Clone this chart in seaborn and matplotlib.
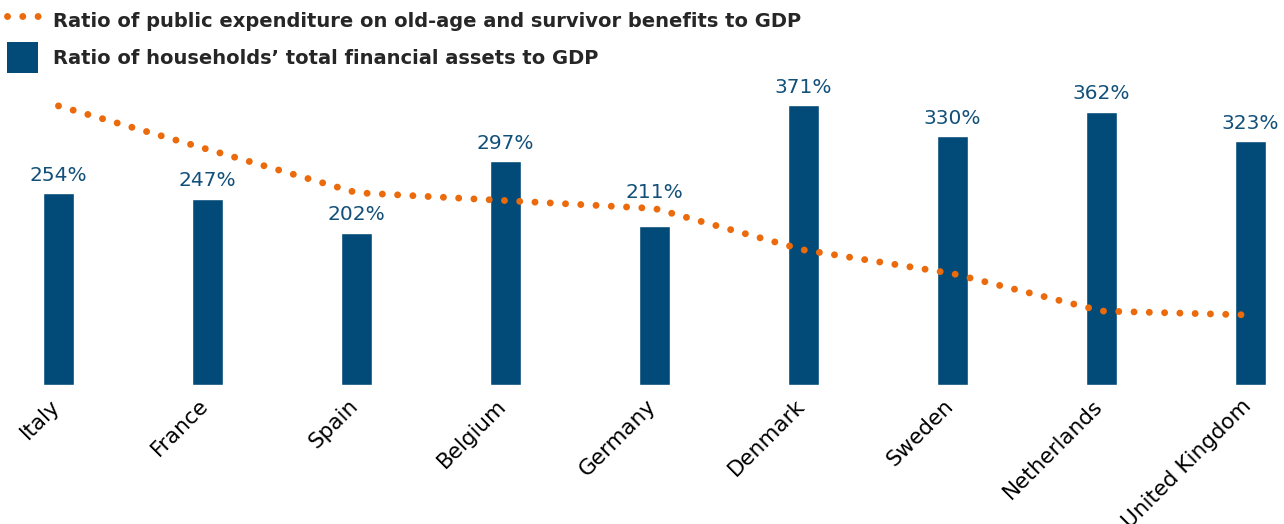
import numpy as np
import matplotlib
matplotlib.use("Agg")
import matplotlib.pyplot as plt
from matplotlib.lines import Line2D
from matplotlib.patches import Patch
import matplotlib.transforms as mtransforms
import seaborn as sns

countries = ["Italy", "France", "Spain", "Belgium", "Germany",
             "Denmark", "Sweden", "Netherlands", "United Kingdom"]
financial_assets = [254, 247, 202, 297, 211, 371, 330, 362, 323]
pension_spending = [15.6, 13.4, 11.2, 10.8, 10.4, 8.3, 7.1, 5.2, 5.0]

legend_labels = [
    "Ratio of public expenditure on old-age and survivor benefits to GDP",
    "Ratio of households\u2019 total financial assets to GDP",
]

BLUE = "#024B78"
LABEL_BLUE = "#12507A"
ORANGE = "#EB6A0C"
FONT = ["DejaVu Sans"]

sns.set_theme(style="white")
plt.rcParams["font.family"] = FONT

fig = plt.figure(figsize=(12.84, 5.24), dpi=100)
W, H = 1284, 524
ax = fig.add_axes([0, 1 - 385 / H, 1, 300 / H])

pos = np.arange(len(countries))
sns.barplot(x=pos, y=financial_assets, color=BLUE, width=0.21,
            saturation=1, ax=ax, native_scale=True)
ax.set_xlim(-58.5 / 149, 8 + (W - 1250.5) / 149)
ax.set_ylim(0, 397.5)

labels = ax.bar_label(ax.containers[0],
                      labels=[f"{v}%" for v in financial_assets],
                      padding=6, color=LABEL_BLUE, fontsize=14.5)
# lift the Germany label clear of the dotted line
labels[countries.index("Germany")].xyann = (0, 17)

# dotted series on its own scale
ax2 = ax.twinx()
lw = 5.0
dots = (0, (0.001, 2.2))
sns.lineplot(x=pos, y=pension_spending, sort=False, ax=ax2, color=ORANGE,
             linewidth=lw, linestyle=dots, dash_capstyle="round")
ax2.set_ylim(1.45, 16.66)
ax2.set_xlim(ax.get_xlim())

for a in (ax, ax2):
    for s in a.spines.values():
        s.set_visible(False)
    a.set_yticks([])
    a.set_ylabel("")
    a.grid(False)

ax.set_xticks(pos)
ax.set_xticklabels(countries, rotation=45, ha="right", rotation_mode="anchor",
                   fontsize=15.5, color="black")
ax.tick_params(axis="x", length=0, pad=7.5)
ax.set_xlabel("")
shift = mtransforms.ScaledTranslation(-0.09, 0, fig.dpi_scale_trans)
for lab in ax.get_xticklabels():
    lab.set_transform(lab.get_transform() + shift)

handles = [
    Line2D([0], [0], color=ORANGE, linewidth=lw, linestyle=dots,
           dash_capstyle="round"),
    Patch(facecolor=BLUE, edgecolor="none"),
]
fig.legend(handles, legend_labels, loc="upper left",
           bbox_to_anchor=(7 / W, 1 - 5 / H), frameon=False,
           prop={"family": FONT, "weight": "bold", "size": 14},
           handlelength=1.6, handleheight=2.075, handletextpad=0.75,
           labelspacing=0.31, borderpad=0, borderaxespad=0)

fig.savefig("out.png", dpi=100)
